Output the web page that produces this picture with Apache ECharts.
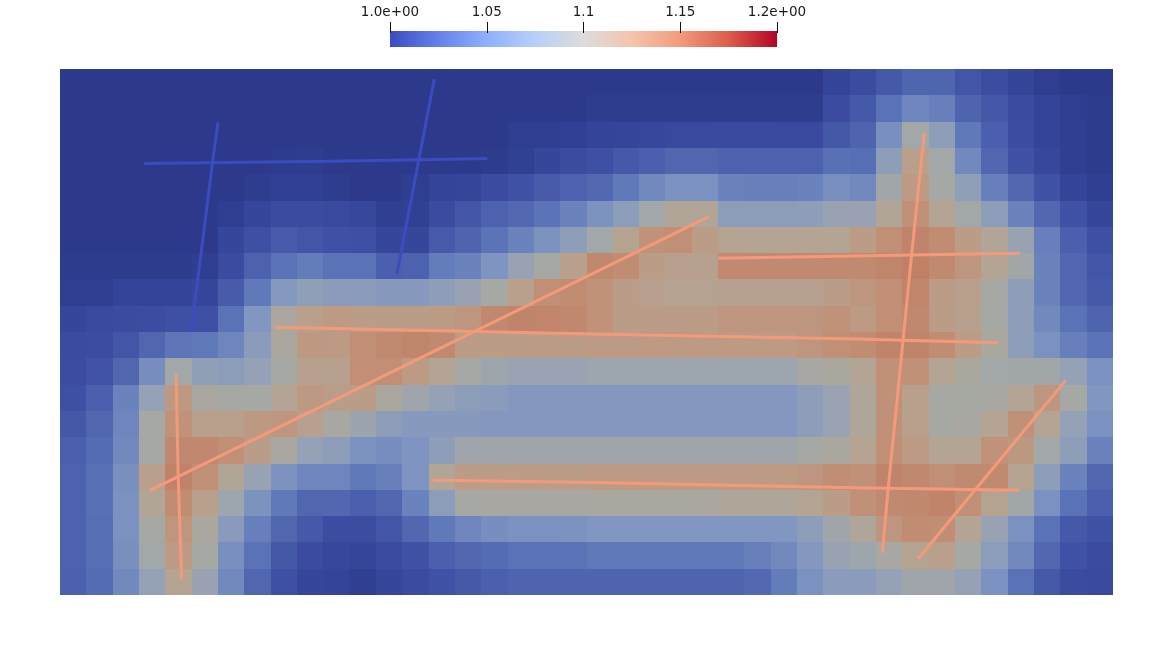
<!DOCTYPE html>
<html><head><meta charset="utf-8">
<script src="https://cdn.jsdelivr.net/npm/echarts@6/dist/echarts.min.js"></script>
<style>html,body{margin:0;padding:0;background:#fff}#c{width:1174px;height:665px}</style>
</head><body><div id="c"></div><script>
// ---- cell field (rows top to bottom, 40 columns each) ----
const r00=[1,1,1,1,1,1,1,1,1,1,1,1,1,1,1,1,1,1,1,1,1,1,1,1,1,1,1,1,1,1.012,1.02,1.033,1.043,1.043,1.03,1.022,1.012,1.005,1,1];
const r01=[1,1,1,1,1,1,1,1,1,1,1,1,1,1,1,1,1,1,1,1,1.004,1.004,1.004,1.004,1.004,1.004,1.004,1.004,1.004,1.02,1.033,1.055,1.07,1.065,1.042,1.032,1.02,1.012,1.005,1.002];
const r02=[1,1,1,1,1,1,1,1,1,1,1,1,1,1,1,1,1,1.005,1.005,1.008,1.013,1.014,1.016,1.018,1.018,1.019,1.019,1.018,1.018,1.032,1.042,1.076,1.098,1.087,1.06,1.038,1.022,1.013,1.006,1.002];
const r03=[1,1,1,1,1,1,1,1,1.003,1.004,1,1,1,1,1,1,1.003,1.007,1.015,1.02,1.025,1.033,1.038,1.045,1.045,1.04,1.04,1.04,1.04,1.053,1.052,1.087,1.12,1.098,1.072,1.045,1.027,1.016,1.006,1.003];
const r04=[1,1,1,1,1,1,1,1.004,1.008,1.008,1.004,1,1,1.005,1.012,1.014,1.02,1.027,1.035,1.04,1.047,1.06,1.072,1.077,1.077,1.068,1.065,1.065,1.068,1.076,1.072,1.097,1.124,1.1,1.088,1.065,1.045,1.027,1.013,1.006];
const r05=[1,1,1,1,1,1,1.005,1.015,1.02,1.02,1.018,1.016,1.006,1.007,1.02,1.03,1.04,1.047,1.056,1.068,1.078,1.086,1.098,1.11,1.11,1.086,1.086,1.086,1.087,1.092,1.092,1.11,1.131,1.113,1.098,1.087,1.068,1.046,1.027,1.015];
const r06=[1,1,1,1,1,1,1.015,1.025,1.035,1.03,1.026,1.025,1.015,1.015,1.034,1.042,1.056,1.068,1.078,1.087,1.098,1.115,1.13,1.133,1.123,1.115,1.113,1.113,1.113,1.113,1.123,1.133,1.143,1.135,1.123,1.11,1.092,1.065,1.038,1.025];
const r07=[1.003,1.003,1.003,1.003,1.003,1.005,1.02,1.04,1.055,1.062,1.055,1.055,1.038,1.04,1.062,1.068,1.079,1.092,1.1,1.12,1.138,1.135,1.123,1.118,1.118,1.137,1.137,1.137,1.137,1.137,1.137,1.141,1.148,1.137,1.127,1.113,1.097,1.068,1.045,1.03];
const r08=[1.005,1.005,1.012,1.012,1.012,1.015,1.035,1.06,1.082,1.088,1.085,1.085,1.083,1.083,1.087,1.092,1.1,1.12,1.133,1.135,1.13,1.122,1.118,1.116,1.116,1.118,1.118,1.118,1.118,1.122,1.127,1.133,1.141,1.123,1.12,1.1,1.087,1.068,1.046,1.033];
const r09=[1.015,1.018,1.02,1.022,1.025,1.025,1.055,1.08,1.105,1.12,1.124,1.122,1.122,1.122,1.124,1.127,1.138,1.143,1.142,1.138,1.13,1.123,1.123,1.123,1.123,1.127,1.127,1.127,1.127,1.13,1.124,1.133,1.138,1.123,1.118,1.1,1.087,1.072,1.055,1.042];
const r10=[1.02,1.022,1.03,1.045,1.058,1.06,1.07,1.085,1.105,1.125,1.124,1.133,1.137,1.141,1.137,1.123,1.123,1.123,1.123,1.123,1.124,1.124,1.124,1.124,1.124,1.124,1.124,1.124,1.127,1.133,1.135,1.143,1.143,1.135,1.123,1.104,1.087,1.077,1.065,1.055];
const r11=[1.022,1.028,1.045,1.075,1.098,1.088,1.086,1.09,1.1,1.118,1.118,1.133,1.133,1.124,1.113,1.1,1.095,1.093,1.093,1.093,1.095,1.095,1.095,1.095,1.095,1.095,1.095,1.095,1.102,1.104,1.113,1.131,1.131,1.113,1.104,1.098,1.097,1.097,1.09,1.077];
const r12=[1.025,1.038,1.068,1.09,1.125,1.103,1.1,1.1,1.112,1.125,1.122,1.123,1.104,1.096,1.09,1.086,1.085,1.081,1.081,1.081,1.081,1.081,1.081,1.081,1.081,1.081,1.081,1.081,1.087,1.093,1.108,1.131,1.12,1.1,1.1,1.102,1.113,1.127,1.1,1.08];
const r13=[1.032,1.045,1.07,1.1,1.13,1.12,1.12,1.125,1.127,1.118,1.102,1.094,1.087,1.083,1.083,1.083,1.081,1.081,1.081,1.081,1.081,1.081,1.081,1.081,1.081,1.081,1.081,1.081,1.087,1.093,1.108,1.131,1.12,1.1,1.102,1.113,1.131,1.113,1.09,1.077];
const r14=[1.038,1.05,1.072,1.1,1.138,1.138,1.133,1.122,1.102,1.09,1.087,1.078,1.075,1.079,1.087,1.096,1.096,1.096,1.096,1.096,1.096,1.096,1.096,1.096,1.096,1.096,1.096,1.096,1.1,1.104,1.115,1.132,1.124,1.113,1.113,1.13,1.126,1.098,1.087,1.068];
const r15=[1.04,1.053,1.076,1.12,1.145,1.132,1.11,1.092,1.078,1.07,1.07,1.06,1.065,1.079,1.11,1.123,1.123,1.123,1.123,1.123,1.124,1.124,1.124,1.124,1.124,1.124,1.124,1.124,1.127,1.134,1.131,1.143,1.138,1.133,1.137,1.137,1.115,1.087,1.068,1.046];
const r16=[1.04,1.053,1.077,1.11,1.135,1.12,1.095,1.078,1.06,1.045,1.046,1.038,1.046,1.068,1.086,1.1,1.102,1.102,1.102,1.102,1.103,1.103,1.103,1.103,1.103,1.108,1.108,1.108,1.113,1.122,1.131,1.137,1.139,1.143,1.133,1.115,1.097,1.077,1.055,1.038];
const r17=[1.04,1.052,1.077,1.1,1.128,1.104,1.084,1.065,1.045,1.033,1.022,1.022,1.03,1.046,1.06,1.07,1.075,1.077,1.077,1.078,1.08,1.08,1.08,1.08,1.08,1.08,1.08,1.08,1.087,1.096,1.108,1.127,1.135,1.134,1.113,1.092,1.077,1.055,1.033,1.027];
const r18=[1.04,1.052,1.076,1.098,1.124,1.1,1.076,1.055,1.032,1.02,1.016,1.014,1.02,1.027,1.038,1.046,1.05,1.055,1.055,1.055,1.06,1.06,1.06,1.06,1.06,1.06,1.065,1.072,1.081,1.092,1.095,1.102,1.115,1.12,1.1,1.086,1.072,1.046,1.027,1.02];
const r19=[1.039,1.05,1.072,1.09,1.113,1.092,1.072,1.045,1.025,1.015,1.013,1.006,1.015,1.02,1.027,1.033,1.038,1.042,1.042,1.042,1.042,1.042,1.042,1.042,1.042,1.042,1.047,1.062,1.077,1.085,1.085,1.09,1.096,1.096,1.09,1.077,1.055,1.033,1.02,1.018];
const fieldRows=[r00,r01,r02,r03,r04,r05,r06,r07,r08,r09,r10,r11,r12,r13,r14,r15,r16,r17,r18,r19];

// ---- fractures: polyline points in cell units (x right, y down) and their value ----
const fracBlueH   =[[3.20,3.59],[10.26,3.51],[13.64,3.45],[16.23,3.40]];
const fracBlueV1  =[[6.00,2.03],[5.79,3.57],[4.98,10.01]];
const fracBlueV2  =[[14.22,0.38],[13.63,3.45],[12.80,7.79]];
const fracOrH1    =[[8.17,9.82],[20.25,10.08],[30.24,10.27],[35.63,10.41]];
const fracOrDiag1 =[[3.42,16.02],[24.63,5.62]];
const fracOrV1    =[[4.41,11.61],[4.49,15.51],[4.62,19.40]];
const fracOrH2    =[[25.01,7.20],[32.35,7.07],[36.47,7.01]];
const fracOrV2    =[[32.83,2.43],[32.35,7.07],[31.46,15.96],[31.24,18.40]];
const fracOrH3    =[[14.17,15.64],[19.79,15.71],[30.24,15.92],[36.44,16.02]];
const fracOrDiag2 =[[32.60,18.62],[38.20,11.84]];
const fractures=[
  {pts:fracBlueH,value:1.0},{pts:fracBlueV1,value:1.0},{pts:fracBlueV2,value:1.0},
  {pts:fracOrH1,value:1.15},{pts:fracOrDiag1,value:1.15},{pts:fracOrV1,value:1.15},
  {pts:fracOrH2,value:1.15},{pts:fracOrV2,value:1.15},{pts:fracOrH3,value:1.15},{pts:fracOrDiag2,value:1.15}
];

// ---- colour bar ticks ----
const barTicks=[1.0,1.05,1.1,1.15,1.2];
const barLabels=['1.0e+00','1.05','1.1','1.15','1.2e+00'];
const vMin=1.0, vMax=1.2;

const coolwarm=[[0,'#3b4cc0'],[0.125,'#6282ea'],[0.25,'#8db0fe'],[0.375,'#b7cff9'],[0.5,'#dddcdc'],[0.625,'#f5c4ac'],[0.75,'#f49a7b'],[0.875,'#dc5d4a'],[1,'#b40426']];
// lit (shaded) version used by the surface cells
const shaded=['#2d3a8b','#324296','#3a4ba0','#4255a7','#4c62ae','#546cb3','#6079b9','#6e86bd','#8196c0','#94a1b6','#a6a8a4','#b1a598','#b9a08c','#c09279','#c0876c','#c07e64','#bc725a','#b66450','#ac5042','#9e3230','#8c0a20'];

function hex2rgb(h){return [parseInt(h.slice(1,3),16),parseInt(h.slice(3,5),16),parseInt(h.slice(5,7),16)];}
function cw(v){
  const t=(v-vMin)/(vMax-vMin);
  for(let i=1;i<coolwarm.length;i++){
    if(t<=coolwarm[i][0]){
      const a=coolwarm[i-1],b=coolwarm[i];const f=(t-a[0])/(b[0]-a[0]);
      const A=hex2rgb(a[1]),B=hex2rgb(b[1]);
      return 'rgb('+A.map((x,k)=>Math.round(x+(B[k]-x)*f)).join(',')+')';
    }
  }
  return coolwarm[coolwarm.length-1][1];
}

const NX=r00.length, NY=fieldRows.length;
const cells=[];
fieldRows.forEach((row,r)=>row.forEach((v,c)=>cells.push([c,r,v])));

const chart=echarts.init(document.getElementById('c'),null,{renderer:'canvas'});
const series=[{
  type:'custom',xAxisIndex:0,yAxisIndex:0,data:cells,encode:{x:0,y:1},silent:true,
  renderItem:(params,api)=>{
    const c=api.value(0), r=api.value(1);
    const p0=api.coord([c,r]), p1=api.coord([c+1,r+1]);
    // snap cell edges to whole pixels so neighbouring cells meet without seams
    const x0=Math.round(Math.min(p0[0],p1[0])), x1=Math.round(Math.max(p0[0],p1[0]));
    const y0=Math.round(Math.min(p0[1],p1[1])), y1=Math.round(Math.max(p0[1],p1[1]));
    return {type:'rect',shape:{x:x0,y:y0,width:x1-x0,height:y1-y0},
      style:{fill:api.visual('color'),stroke:null,lineWidth:0}};
  }
}];
fractures.forEach(f=>series.push({
  type:'line',xAxisIndex:0,yAxisIndex:0,data:f.pts,showSymbol:false,symbol:'none',
  lineStyle:{color:cw(f.value),width:3},silent:true,z:5
}));
series.push({type:'line',xAxisIndex:1,yAxisIndex:1,data:[]});

chart.setOption({
  animation:false,
  backgroundColor:'#ffffff',
  grid:[
    {left:60,top:69,width:1053,height:526,containLabel:false},
    {left:390,top:31,width:387,height:16,show:true,borderWidth:0,
     backgroundColor:new echarts.graphic.LinearGradient(0,0,1,0,coolwarm.map(s=>({offset:s[0],color:s[1]})))},
    {left:390,top:22,width:387,height:11,show:false}
  ],
  xAxis:[
    {type:'value',gridIndex:0,min:0,max:NX,show:false},
    {type:'value',gridIndex:1,min:vMin,max:vMax,show:false},
    {type:'value',gridIndex:2,min:vMin,max:vMax,interval:0.05,position:'top',
     axisLine:{show:false},axisTick:{show:false},
     splitLine:{show:true,lineStyle:{color:'#111',width:1}},
     axisLabel:{show:true,margin:3,color:'#1a1a1a',fontFamily:'DejaVu Sans',fontSize:13.5,showMinLabel:true,showMaxLabel:true,
       formatter:v=>{const i=barTicks.findIndex(t=>Math.abs(t-v)<1e-6);return i>=0?barLabels[i]:'';}}}
  ],
  yAxis:[
    {type:'value',gridIndex:0,min:0,max:NY,inverse:true,show:false},
    {type:'value',gridIndex:1,min:0,max:1,show:false},
    {type:'value',gridIndex:2,min:0,max:1,show:false}
  ],
  visualMap:[{type:'continuous',seriesIndex:0,dimension:2,min:vMin,max:vMax,show:false,inRange:{color:shaded}}],
  series:series
});
</script></body></html>
